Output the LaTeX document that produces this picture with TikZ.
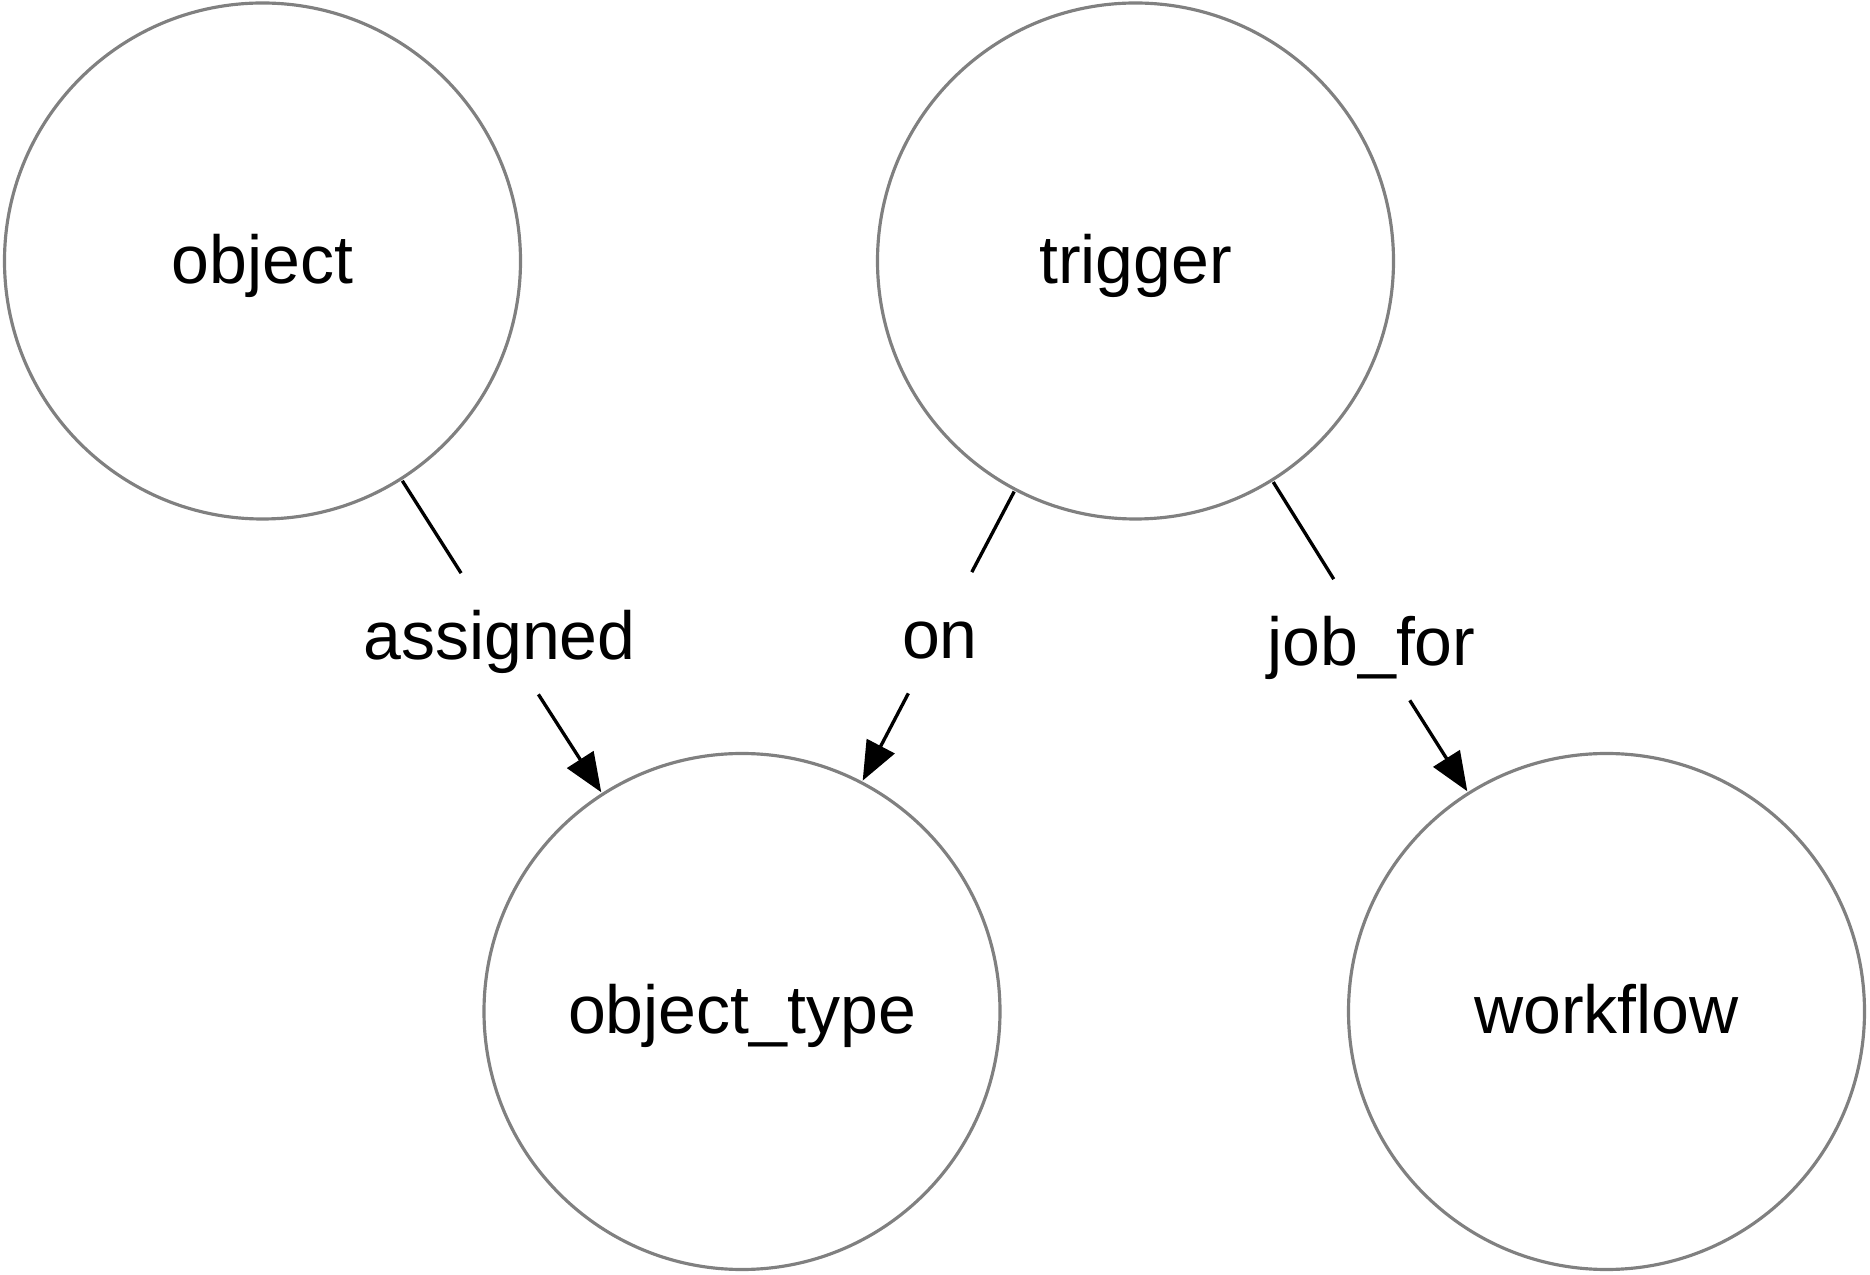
\documentclass[tikz,border=0pt]{standalone}
\usepackage{fontspec}
\setmainfont{Liberation Sans}
\usetikzlibrary{arrows.meta}
\tikzset{
  entity/.style={circle, draw=gray, line width=1.8pt, minimum size=10.32cm,
    inner sep=0pt, outer sep=0.05cm, text height=1.2cm, text depth=0.3cm},
  rel/.style={anchor=base, inner xsep=0.3cm, inner ysep=0pt,
    text height=1.72cm, text depth=0.69cm},
  link/.style={line width=1.9pt},
  linkarrow/.style={link, -{Triangle[length=0.78cm, width=0.62cm]}}
}
\begin{document}
\begin{tikzpicture}[font=\fontsize{38.7pt}{46pt}\selectfont]
        \useasboundingbox (0,0) rectangle (37.4,25.48);
        \node [entity] (object) at (5.25,20.26) {object};
        \node [entity] (trigger) at (22.71,20.26) {trigger};
        \node [entity] (objecttype) at (14.84,5.25) {object\_type};
        \node [entity] (workflow) at (32.13,5.25) {workflow};
        \node [rel] (assigned) at (9.99,12.29) {assigned};
        \node [rel] (on) at (18.80,12.31) {on};
        \node [rel] (jobfor) at (27.43,12.17) {job\_for};
        \draw [link] (object) -- (assigned);
        \draw [linkarrow] (assigned) -- (objecttype);
        \draw [link] (trigger) -- (on);
        \draw [linkarrow] (on) -- (objecttype);
        \draw [link] (trigger) -- (jobfor);
        \draw [linkarrow] (jobfor) -- (workflow);
    \end{tikzpicture}
\end{document}
